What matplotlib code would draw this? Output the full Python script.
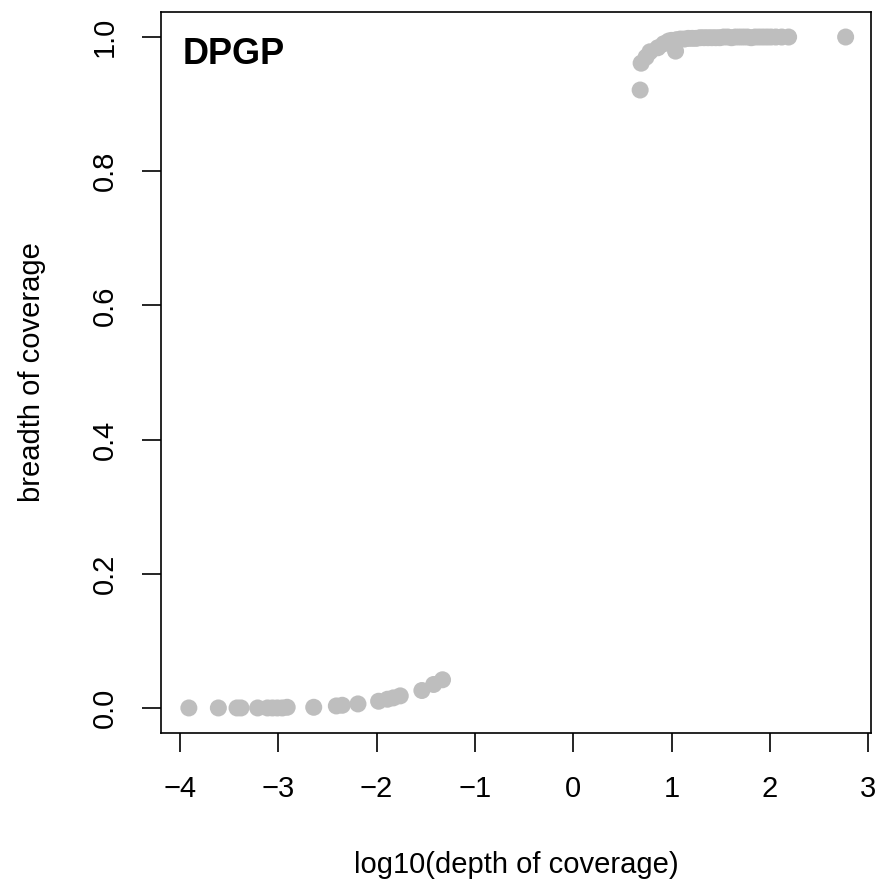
import matplotlib
matplotlib.use("Agg")
import matplotlib.pyplot as plt

plt.rcParams['font.family'] = ['Liberation Sans', 'DejaVu Sans']

# low-depth samples
low_x = [-3.91, -3.61, -3.42, -3.38, -3.21, -3.11, -3.06, -3.01, -2.96, -2.91,
         -2.64, -2.41, -2.35, -2.19, -1.98, -1.89, -1.83, -1.76, -1.54, -1.42, -1.33]
low_y = [0.000, 0.000, 0.000, 0.000, 0.000, 0.000, 0.000, 0.000, 0.000, 0.001,
         0.001, 0.003, 0.004, 0.006, 0.010, 0.013, 0.015, 0.018, 0.026, 0.035, 0.042]

# high-depth samples
high_x = [0.68, 0.69, 0.74, 0.78, 0.86, 0.92, 0.97, 1.00, 1.04, 1.05, 1.09, 1.13,
          1.17, 1.21, 1.25, 1.29, 1.33, 1.37, 1.41, 1.45, 1.49, 1.53, 1.57, 1.61,
          1.65, 1.69, 1.73, 1.77, 1.81, 1.85, 1.89, 1.93, 1.97, 2.01, 2.06, 2.12,
          2.19, 2.77]
high_y = [0.921, 0.961, 0.970, 0.978, 0.984, 0.990, 0.994, 0.995, 0.979, 0.996,
          0.997, 0.997, 0.998, 0.998, 0.998, 0.999, 0.999, 0.999, 0.999, 0.999,
          0.999, 1.000, 1.000, 0.999, 1.000, 1.000, 1.000, 1.000, 0.999, 1.000,
          1.000, 1.000, 1.000, 1.000, 1.000, 1.000, 1.000, 1.000]

xticks = [-4, -3, -2, -1, 0, 1, 2, 3]
yticks = [0.0, 0.2, 0.4, 0.6, 0.8, 1.0]

fig = plt.figure(figsize=(8.8, 8.89), dpi=100)
ax = fig.add_axes([0.183, 0.1755, 0.807, 0.811])

grey = '#bebebe'
ax.scatter(low_x + high_x, low_y + high_y, s=150, color=grey, edgecolors='none', zorder=3)

ax.set_xlim(-4.193, 3.03)
ax.set_ylim(-0.0373, 1.0373)
ax.set_xticks(xticks)
ax.set_xticklabels(['\u2212' + str(-t) if t < 0 else str(t) for t in xticks])
ax.set_yticks(yticks)
ax.set_yticklabels(['%.1f' % t for t in yticks], rotation=90, va='center')
ax.tick_params(direction='out', length=13.5, width=1.2, labelsize=21, pad=17)
for sp in ax.spines.values():
    sp.set_linewidth(1.2)

ax.set_xlabel('log10(depth of coverage)', fontsize=21)
ax.set_ylabel('breadth of coverage', fontsize=21)
ax.xaxis.label.set_va('center')
ax.yaxis.label.set_va('center')
ax.xaxis.set_label_coords(0.5, -0.183)
ax.yaxis.set_label_coords(-0.182, 0.5)

ax.text(0.03, 0.965, 'DPGP', transform=ax.transAxes, fontsize=26,
        fontweight='bold', va='top', ha='left')

fig.savefig('out.png', dpi=100)
